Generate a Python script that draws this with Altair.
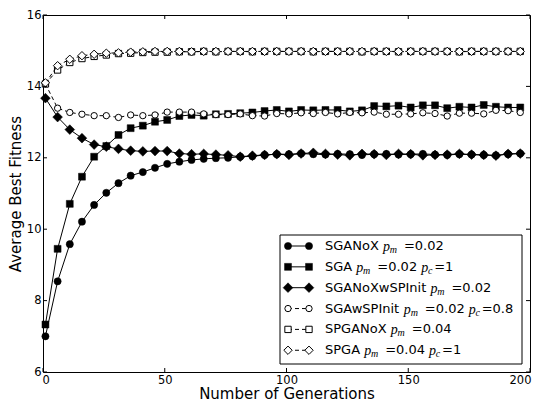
import altair as alt
import pandas as pd

# ---------------- data ----------------
generations = [1, 6, 11, 16, 21, 26, 31, 36, 41, 46, 51, 56, 61, 66, 71, 76, 81, 86, 91, 96,
               101, 106, 111, 116, 121, 126, 131, 136, 141, 146, 151, 156, 161, 166, 171, 176,
               181, 186, 191, 196]

sganox = [7.00, 8.54, 9.58, 10.21, 10.68, 11.02, 11.29, 11.50, 11.60, 11.72,
          11.83, 11.89, 11.94, 11.97, 11.99, 12.00, 12.03, 12.04, 12.08, 12.10,
          12.10, 12.12, 12.10, 12.09, 12.11, 12.10, 12.08, 12.10, 12.11, 12.09,
          12.10, 12.11, 12.09, 12.08, 12.10, 12.09, 12.08, 12.07, 12.10, 12.12]

sga = [7.33, 9.45, 10.71, 11.47, 12.03, 12.33, 12.64, 12.83, 12.90, 13.01,
       13.06, 13.17, 13.20, 13.18, 13.22, 13.23, 13.25, 13.27, 13.31, 13.34,
       13.30, 13.34, 13.33, 13.34, 13.34, 13.30, 13.33, 13.45, 13.44, 13.46,
       13.41, 13.47, 13.47, 13.39, 13.43, 13.41, 13.48, 13.43, 13.41, 13.41]

sganoxwspinit = [13.67, 13.14, 12.79, 12.55, 12.37, 12.31, 12.25, 12.20, 12.18, 12.19,
                 12.19, 12.12, 12.10, 12.11, 12.09, 12.07, 12.03, 12.06, 12.08, 12.10,
                 12.08, 12.12, 12.14, 12.11, 12.09, 12.07, 12.11, 12.10, 12.08, 12.11,
                 12.10, 12.07, 12.08, 12.09, 12.11, 12.09, 12.08, 12.06, 12.11, 12.12]

sgawspinit = [14.07, 13.39, 13.27, 13.22, 13.18, 13.18, 13.13, 13.20, 13.18, 13.20,
              13.28, 13.28, 13.28, 13.23, 13.21, 13.21, 13.23, 13.18, 13.17, 13.24,
              13.23, 13.26, 13.24, 13.27, 13.23, 13.27, 13.26, 13.28, 13.22, 13.22,
              13.23, 13.26, 13.24, 13.17, 13.25, 13.25, 13.23, 13.33, 13.32, 13.27]

spganox = [14.07, 14.46, 14.67, 14.78, 14.84, 14.88, 14.92, 14.93, 14.95, 14.96,
           14.96, 14.97, 14.97, 14.98, 14.97, 14.98, 14.98, 14.97, 14.98, 14.98,
           14.98, 14.98, 14.97, 14.98, 14.98, 14.98, 14.97, 14.98, 14.98, 14.97,
           14.98, 14.98, 14.98, 14.98, 14.97, 14.98, 14.98, 14.98, 14.98, 14.98]

spga = [14.10, 14.58, 14.76, 14.86, 14.90, 14.93, 14.94, 14.96, 14.97, 14.98,
        14.98, 14.98, 14.97, 14.98, 14.98, 14.98, 14.98, 14.98, 14.98, 14.98,
        14.98, 14.98, 14.98, 14.98, 14.98, 14.98, 14.98, 14.98, 14.98, 14.98,
        14.98, 14.98, 14.98, 14.98, 14.98, 14.98, 14.98, 14.98, 14.98, 14.98]

series_names = ["SGANoX", "SGA", "SGANoXwSPInit", "SGAwSPInit", "SPGANoX", "SPGA"]
series_values = [sganox, sga, sganoxwspinit, sgawspinit, spganox, spga]
legend_pm = ["0.02", "0.02", "0.02", "0.02", "0.04", "0.04"]
legend_pc = ["", "1", "", "0.8", "", "1"]

x_ticks = [0, 50, 100, 150, 200]
y_ticks = [6, 8, 10, 12, 14, 16]

# ---------------- styling ----------------
W, H = 487, 357
FONT = "DejaVu Sans"
SERIF = "Liberation Serif"

styles = [
    dict(shape="circle", filled=True, dashed=False, size=52),
    dict(shape="square", filled=True, dashed=False, size=48),
    dict(shape="diamond", filled=True, dashed=False, size=95),
    dict(shape="circle", filled=False, dashed=True, size=40),
    dict(shape="square", filled=False, dashed=True, size=40),
    dict(shape="diamond", filled=False, dashed=True, size=70),
]

X = alt.X("gen:Q",
          scale=alt.Scale(domain=[0, 200], nice=False, zero=False),
          axis=alt.Axis(values=x_ticks, ticks=False, domain=False, grid=False,
                        labelFont=FONT, labelFontSize=11.5, labelColor="black",
                        labelPadding=2, labelFlush=True, labelFlushOffset=1,
                        titleFont=FONT, titleFontSize=15, titleFontWeight="normal",
                        titleColor="black", titlePadding=1),
          title="Number of Generations")
Y = alt.Y("fit:Q",
          scale=alt.Scale(domain=[6, 16], nice=False, zero=False),
          axis=alt.Axis(values=y_ticks, ticks=False, domain=False, grid=False,
                        labelFont=FONT, labelFontSize=11.5, labelColor="black",
                        labelPadding=2, labelFlush=False,
                        titleFont=FONT, titleFontSize=15, titleFontWeight="normal",
                        titleColor="black", titlePadding=3),
          title="Average Best Fitness")


def point_props(st):
    if st["filled"]:
        return dict(shape=st["shape"], size=st["size"], filled=True,
                    fill="black", stroke="black", strokeWidth=0.5, opacity=1)
    return dict(shape=st["shape"], size=st["size"], filled=False,
                fill="white", fillOpacity=1, stroke="black", strokeWidth=1, opacity=1)


def line_props(st):
    if st["dashed"]:
        return dict(color="black", strokeWidth=1, strokeDash=[4, 3])
    return dict(color="black", strokeWidth=1)


layers = []
for name, vals, st in zip(series_names, series_values, styles):
    df = pd.DataFrame({"gen": generations, "fit": vals})
    layers.append(alt.Chart(df).mark_line(**line_props(st)).encode(x=X, y=Y))
    layers.append(alt.Chart(df).mark_point(**point_props(st)).encode(x=X, y=Y))

# inward ticks on all four sides
xt = pd.DataFrame({"gen": x_ticks})
yt = pd.DataFrame({"fit": y_ticks})
layers.append(alt.Chart(xt).mark_rule(color="black", strokeWidth=1).encode(x=X, y=alt.value(H), y2=alt.value(H - 4)))
layers.append(alt.Chart(xt).mark_rule(color="black", strokeWidth=1).encode(x=X, y=alt.value(0), y2=alt.value(4)))
layers.append(alt.Chart(yt).mark_rule(color="black", strokeWidth=1).encode(y=Y, x=alt.value(0), x2=alt.value(4)))
layers.append(alt.Chart(yt).mark_rule(color="black", strokeWidth=1).encode(y=Y, x=alt.value(W - 4), x2=alt.value(W)))

# ---------------- legend ----------------
one = pd.DataFrame({"k": [0]})
CW = {'S': 0.635, 'G': 0.775, 'A': 0.684, 'N': 0.748, 'o': 0.612, 'X': 0.685, 'w': 0.818,
      'P': 0.603, 'I': 0.295, 'n': 0.634, 'i': 0.278, 't': 0.392, ' ': 0.318, '=': 0.838,
      '.': 0.318}


def tw(s, size):
    return sum(CW.get(c, 0.636) for c in s) * size


LX0, LX1, LY0, LY1 = 237, 479, 220, 349
layers.append(alt.Chart(one).mark_rect(fill="white", stroke="black", strokeWidth=1).encode(
    x=alt.value(LX0), x2=alt.value(LX1), y=alt.value(LY0), y2=alt.value(LY1)))


def txt(text, x, y, font=FONT, size=13, style="normal"):
    return alt.Chart(one).mark_text(text=text, font=font, fontSize=size, fontStyle=style,
                                    align="left", baseline="middle", color="black").encode(
        x=alt.value(x), y=alt.value(y))


TX = 282
for i, (name, st) in enumerate(zip(series_names, styles)):
    ry = 231 + 20.85 * i
    layers.append(alt.Chart(one).mark_rule(**line_props(st)).encode(
        x=alt.value(245), x2=alt.value(266), y=alt.value(ry)))
    layers.append(alt.Chart(one).mark_point(**point_props(st)).encode(x=alt.value(245), y=alt.value(ry)))
    layers.append(alt.Chart(one).mark_point(**point_props(st)).encode(x=alt.value(266), y=alt.value(ry)))
    layers.append(txt(name, TX, ry))
    px = TX + tw(name, 13) + 4.1
    layers.append(txt("p", px, ry + 1, font=SERIF, size=14, style="italic"))
    layers.append(txt("m", px + 6.8, ry + 4, font=SERIF, size=10, style="italic"))
    eq = "=" + legend_pm[i]
    layers.append(txt(eq, px + 21, ry))
    if legend_pc[i]:
        p2 = px + 21 + tw(eq, 13) + 4
        layers.append(txt("p", p2, ry + 1, font=SERIF, size=14, style="italic"))
        layers.append(txt("c", p2 + 6.8, ry + 4, font=SERIF, size=10, style="italic"))
        layers.append(txt("=" + legend_pc[i], p2 + 13, ry))

chart = alt.layer(*layers).properties(
    width=W, height=H,
    padding={"left": 35, "top": 7, "right": 2, "bottom": 33},
    autosize=alt.AutoSizeParams(type="none"),
    background="white",
).configure_view(stroke="black", strokeWidth=1)

chart.save("out.html", embed_options={"renderer": "svg", "actions": False})
